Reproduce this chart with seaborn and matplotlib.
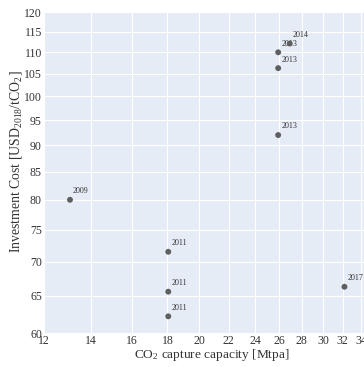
import matplotlib
matplotlib.use("Agg")
import matplotlib.pyplot as plt
import matplotlib.ticker as mticker
import numpy as np
import pandas as pd
import seaborn as sns

# Capture projects: capacity vs. investment cost, labelled by year
capacity = [13.07, 18.05, 18.05, 18.05, 25.9, 25.9, 25.9, 26.9, 32.2]
cost = [80.0, 71.5, 65.6, 62.2, 110.0, 106.3, 92.0, 112.1, 66.3]
year = ["2009", "2011", "2011", "2011", "2013", "2013", "2013", "2014", "2017"]

x_ticks = list(range(12, 35, 2))
y_ticks = list(range(60, 121, 5))

df = pd.DataFrame({"capacity": capacity, "cost": cost, "year": year})

sns.set_theme(style="darkgrid")
plt.rcParams["font.family"] = ["Liberation Serif", "DejaVu Serif"]
plt.rcParams["mathtext.fontset"] = "custom"
plt.rcParams["mathtext.rm"] = "Liberation Serif"
plt.rcParams["mathtext.it"] = "Liberation Serif:italic"
plt.rcParams["mathtext.default"] = "regular"

W, H = 364, 367
fig = plt.figure(figsize=(W / 100, H / 100), dpi=100)
ax = fig.add_axes([44 / W, 34 / H, 320 / W, 321 / H])
ax.set_facecolor("#E5ECF6")

ax.set_xscale("log")
ax.set_yscale("log")

sns.scatterplot(data=df, x="capacity", y="cost", ax=ax, color="#5f5f5f",
                s=18, edgecolor="none", zorder=4, legend=False)

for cx, cy, lab in zip(capacity, cost, year):
    ax.annotate(lab, (cx, cy), xytext=(2.2, 6.2), textcoords="offset points",
                ha="left", va="center", fontsize=5.8, color="#333333", zorder=3)

ax.set_xlim(12, 12 * np.exp(320 / 304.4))
ax.set_ylim(60, 120)

ax.xaxis.set_major_locator(mticker.FixedLocator(x_ticks))
ax.yaxis.set_major_locator(mticker.FixedLocator(y_ticks))
ax.xaxis.set_major_formatter(mticker.FixedFormatter([str(t) for t in x_ticks]))
ax.yaxis.set_major_formatter(mticker.FixedFormatter([str(t) for t in y_ticks]))
ax.xaxis.set_minor_locator(mticker.NullLocator())
ax.yaxis.set_minor_locator(mticker.NullLocator())

ax.grid(True, color="white", linewidth=0.8)
ax.tick_params(axis="both", length=0, labelsize=8.5, colors="#333333", pad=1.5)
for sp in ax.spines.values():
    sp.set_visible(False)

ax.set_xlabel("CO$_2$ capture capacity [Mtpa]", fontsize=9.6, color="#333333",
              va="center")
ax.set_ylabel("Investment Cost [USD$_{2018}$/tCO$_2$]", fontsize=9.9, color="#333333",
              va="center")
ax.xaxis.set_label_coords(0.525, -0.068)
ax.yaxis.set_label_coords(-0.087, 0.533)

fig.savefig("out.png", dpi=100)
